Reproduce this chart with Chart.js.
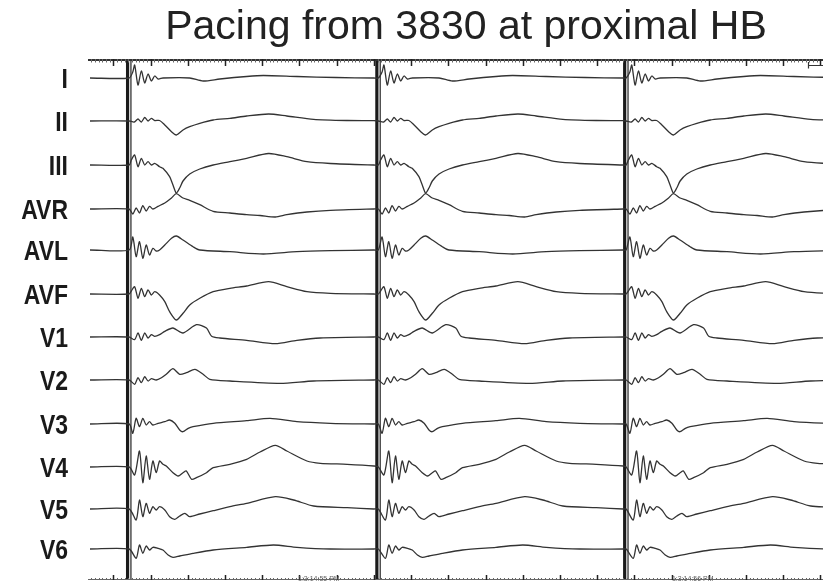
<!DOCTYPE html>
<html lang="en">
<head>
<meta charset="UTF-8">
<title>Pacing from 3830 at proximal HB</title>
<script src="https://cdn.jsdelivr.net/npm/chart.js"></script>
<style>
  html, body { margin: 0; padding: 0; background: #fff; }
  #wrap { width: 823px; height: 583px; position: relative; }
</style>
</head>
<body>
<div id="wrap"><canvas id="ecg"></canvas></div>
<script>
// --- surface ECG, 12 leads, three paced beats ---
const TITLE = 'Pacing from 3830 at proximal HB';
const leadNames = ['I', 'II', 'III', 'AVR', 'AVL', 'AVF', 'V1', 'V2', 'V3', 'V4', 'V5', 'V6'];

// stimulus times (ms on the sweep)
const spikeTimes = [38, 708, 1374];

// one paced complex per lead: [ms after stimulus, amplitude]
const leadI   = [[4,0],[14,6],[19,13],[28,-7],[37,7],[46,-5],[55,4],[64,-3],[73,2],[82,-1],[95,0],[167,0],[203,-3],[248,-1],[320,1.5],[365,2.5],[455,1.5],[560,0.5],[662,0]];
const leadII  = [[4,0],[18,-1],[28,2],[37,-1],[46,3.5],[55,0],[64,2.7],[73,0.5],[86,0.5],[100,-4],[118,-10.7],[131,-14],[149,-9],[167,-5.7],[194,-2.3],[230,1],[275,2.7],[320,5],[379,7],[428,5],[500,1.7],[590,0.5],[662,0.3]];
const leadIII = [[4,0],[10,5],[19,10],[28,-1.7],[37,6.7],[46,0],[55,3.3],[64,0],[73,1.7],[86,-1.7],[95,-3.3],[113,-11.7],[122,-20],[131,-28],[140,-23],[149,-16],[167,-9],[194,-4],[230,0],[275,3.3],[320,6.7],[379,11.5],[428,8.3],[482,3.3],[545,1.5],[662,0]];
const leadAVR = [[4,0],[14,-5],[23,1],[32,-4],[41,3.3],[50,-2],[59,2.7],[68,0],[82,2.7],[100,6],[118,11],[131,15.3],[149,11],[167,8.7],[194,4.3],[230,-2.3],[275,-4],[320,-5.7],[356,-6.5],[397,-8],[428,-5.7],[482,-3],[545,-1.3],[662,0]];
const leadAVL = [[4,0],[14,13],[23,-6.7],[32,8.3],[41,-8.3],[50,5],[59,-5],[68,1.7],[77,-1],[86,0],[100,5],[118,11.7],[131,14],[149,10],[176,3.3],[194,0],[275,-1.7],[365,-4],[455,-1.7],[545,-0.7],[662,0]];
const leadAVF = [[4,0],[10,3],[19,7.3],[28,-4.3],[37,5.7],[46,-2.7],[55,4],[64,-1],[73,2.3],[86,-1],[100,-7.7],[113,-17.7],[131,-26],[149,-19.3],[167,-11],[194,-4.3],[230,2.3],[275,5.7],[320,8],[379,12.3],[428,7.3],[482,2.3],[545,0.7],[662,0]];
const leadV1  = [[4,0],[19,-2.7],[28,4],[37,-3.3],[46,4],[55,-1],[64,2.3],[73,0.7],[86,2.3],[100,5.7],[122,9],[149,4],[185,12.3],[212,9],[226,0.7],[248,-1],[320,-3.3],[397,-6.7],[455,-3.3],[518,-1],[662,0]];
const leadV2  = [[4,0],[19,-4.3],[28,2.3],[37,-2.7],[46,3.3],[55,-1],[64,1.3],[77,0],[91,2.3],[104,5.7],[122,11.3],[140,5.7],[158,7.3],[181,10.7],[203,5.7],[221,0.7],[275,-1],[410,-3.3],[500,-1],[662,0]];
const leadV3  = [[4,0],[14,-9.3],[23,5.7],[32,-2.7],[41,5.7],[50,-1],[59,2.3],[68,-1],[82,0.7],[100,2.3],[113,4],[127,0.7],[140,-6],[149,-7.7],[163,-4.3],[176,-2.7],[230,0.7],[320,3.3],[383,5.7],[455,2.3],[545,0.7],[662,0]];
const leadV4  = [[4,0],[19,-8],[32,16],[41,-15.7],[50,11],[59,-12.3],[68,6],[77,-5.7],[86,6],[95,2.7],[104,1],[122,-5.7],[136,-9],[149,-5.7],[158,-4],[172,-12.3],[185,-10.7],[212,-5.7],[230,-0.7],[275,2.7],[320,7.7],[356,15],[397,21.7],[428,16],[482,6],[518,3.7],[590,2.7],[662,1]];
const leadV5  = [[4,0],[23,-11],[32,9],[41,-7.7],[50,5.7],[59,-4.3],[68,2.3],[77,-1],[86,2.3],[100,-1],[113,-7.7],[127,-10.3],[140,-7],[154,-4.3],[167,-7.7],[194,-5],[230,-1.7],[275,2.3],[320,5.7],[397,12.3],[446,9],[500,3],[590,1.3],[662,0]];
const leadV6  = [[4,0],[23,-9.3],[32,4],[41,-4.3],[50,3],[59,-1],[68,1.7],[82,0.7],[95,-1],[109,-6],[122,-8.3],[140,-7],[176,-4.3],[230,-1],[320,1.7],[392,4],[455,1.7],[545,0],[662,0]];

const leadBeats = [leadI, leadII, leadIII, leadAVR, leadAVL, leadAVF, leadV1, leadV2, leadV3, leadV4, leadV5, leadV6];

// sweep timestamps printed under the bottom ruler
const stampTimes = [496, 1501];
const stampText = ['1:3:14:55 PM', '1:3:14:56 PM'];

// --- layout ---
const X_MIN = -63, X_MAX = 1907;
const Y_MAX = 19, Y_MIN = -502;
const rowOffset = [0, -43, -87, -131, -172, -216, -259, -302, -346, -389, -431, -471];
const INK = '#333';

function traceFor(beat, offset) {
  const pts = [{ x: X_MIN, y: offset }];
  spikeTimes.forEach(s => {
    beat.forEach(([dt, v]) => pts.push({ x: s + dt, y: offset + v }));
  });
  return pts;
}

const datasets = leadBeats.map((beat, i) => ({
  label: leadNames[i],
  data: traceFor(beat, rowOffset[i]),
  borderColor: INK,
  borderWidth: 1.3,
  pointRadius: 0,
  tension: 0.25,
  fill: false
}));

// stimulus artefacts run through every lead
spikeTimes.forEach(s => {
  datasets.push({
    label: 'stim',
    data: [{ x: s, y: Y_MAX }, { x: s, y: Y_MIN }],
    borderColor: '#1a1a1a', borderWidth: 3.2, pointRadius: 0
  });
  datasets.push({
    label: 'stim',
    data: [{ x: s + 9, y: Y_MAX }, { x: s + 9, y: Y_MIN }],
    borderColor: '#444', borderWidth: 1.4, pointRadius: 0
  });
});

// lead names, time rulers, scale bar and sweep title
const sweepDecor = {
  id: 'sweepDecor',
  afterDatasetsDraw(chart) {
    const { ctx, chartArea: a, scales: { x, y } } = chart;
    ctx.save();
    ctx.strokeStyle = INK;
    ctx.lineWidth = 2;
    ctx.beginPath();
    ctx.moveTo(a.left - 2, a.top + 1);
    ctx.lineTo(a.right, a.top + 1);
    ctx.stroke();

    ctx.strokeStyle = '#666';
    ctx.lineWidth = 1;
    ctx.beginPath();
    ctx.moveTo(a.left - 2, a.bottom - 0.5);
    ctx.lineTo(a.right, a.bottom - 0.5);
    ctx.stroke();

    for (let t = Math.ceil(X_MIN / 10) * 10; t <= X_MAX; t += 10) {
      const px = Math.round(x.getPixelForValue(t)) + 0.5;
      const major = t % 100 === 0;
      ctx.strokeStyle = major ? '#222' : '#666';
      ctx.lineWidth = major ? 1.5 : 1;
      ctx.beginPath();
      ctx.moveTo(px, a.top);
      ctx.lineTo(px, a.top + (major ? 7 : 3.5));
      ctx.moveTo(px, a.bottom);
      ctx.lineTo(px, a.bottom - (major ? 5 : 2));
      ctx.stroke();
    }

    // calibration mark, top right
    ctx.strokeStyle = INK;
    ctx.lineWidth = 1.2;
    ctx.beginPath();
    ctx.moveTo(808.5, 62);
    ctx.lineTo(808.5, 68.5);
    ctx.moveTo(808.5, 65.5);
    ctx.lineTo(823, 65.5);
    ctx.stroke();

    ctx.fillStyle = '#666';
    ctx.font = '7px "Liberation Sans", Arial, sans-serif';
    ctx.textBaseline = 'alphabetic';
    ctx.textAlign = 'left';
    stampTimes.forEach((t, i) => ctx.fillText(stampText[i], x.getPixelForValue(t), 581));

    // narrow bold lead names, right-aligned beside each trace
    ctx.fillStyle = '#1a1a1a';
    ctx.font = 'bold 28px "Liberation Sans", Arial, sans-serif';
    ctx.textAlign = 'right';
    leadNames.forEach((name, i) => {
      const py = y.getPixelForValue(rowOffset[i]);
      ctx.save();
      ctx.translate(68, py + 10);
      ctx.scale(0.82, 1);
      ctx.fillText(name, 0, 0);
      ctx.restore();
    });

    ctx.fillStyle = '#222';
    ctx.font = '41px "Liberation Sans", Arial, sans-serif';
    ctx.textAlign = 'center';
    ctx.fillText(TITLE, 466, 38.5);
    ctx.restore();
  }
};

new Chart(document.getElementById('ecg'), {
  type: 'line',
  data: { datasets },
  options: {
    responsive: true,
    maintainAspectRatio: false,
    animation: false,
    layout: { padding: { top: 59, bottom: 3, left: 90, right: 0 } },
    plugins: { legend: { display: false }, tooltip: { enabled: false }, title: { display: false } },
    scales: {
      x: { type: 'linear', min: X_MIN, max: X_MAX, display: false },
      y: { type: 'linear', min: Y_MIN, max: Y_MAX, display: false }
    }
  },
  plugins: [sweepDecor]
});
</script>
</body>
</html>
